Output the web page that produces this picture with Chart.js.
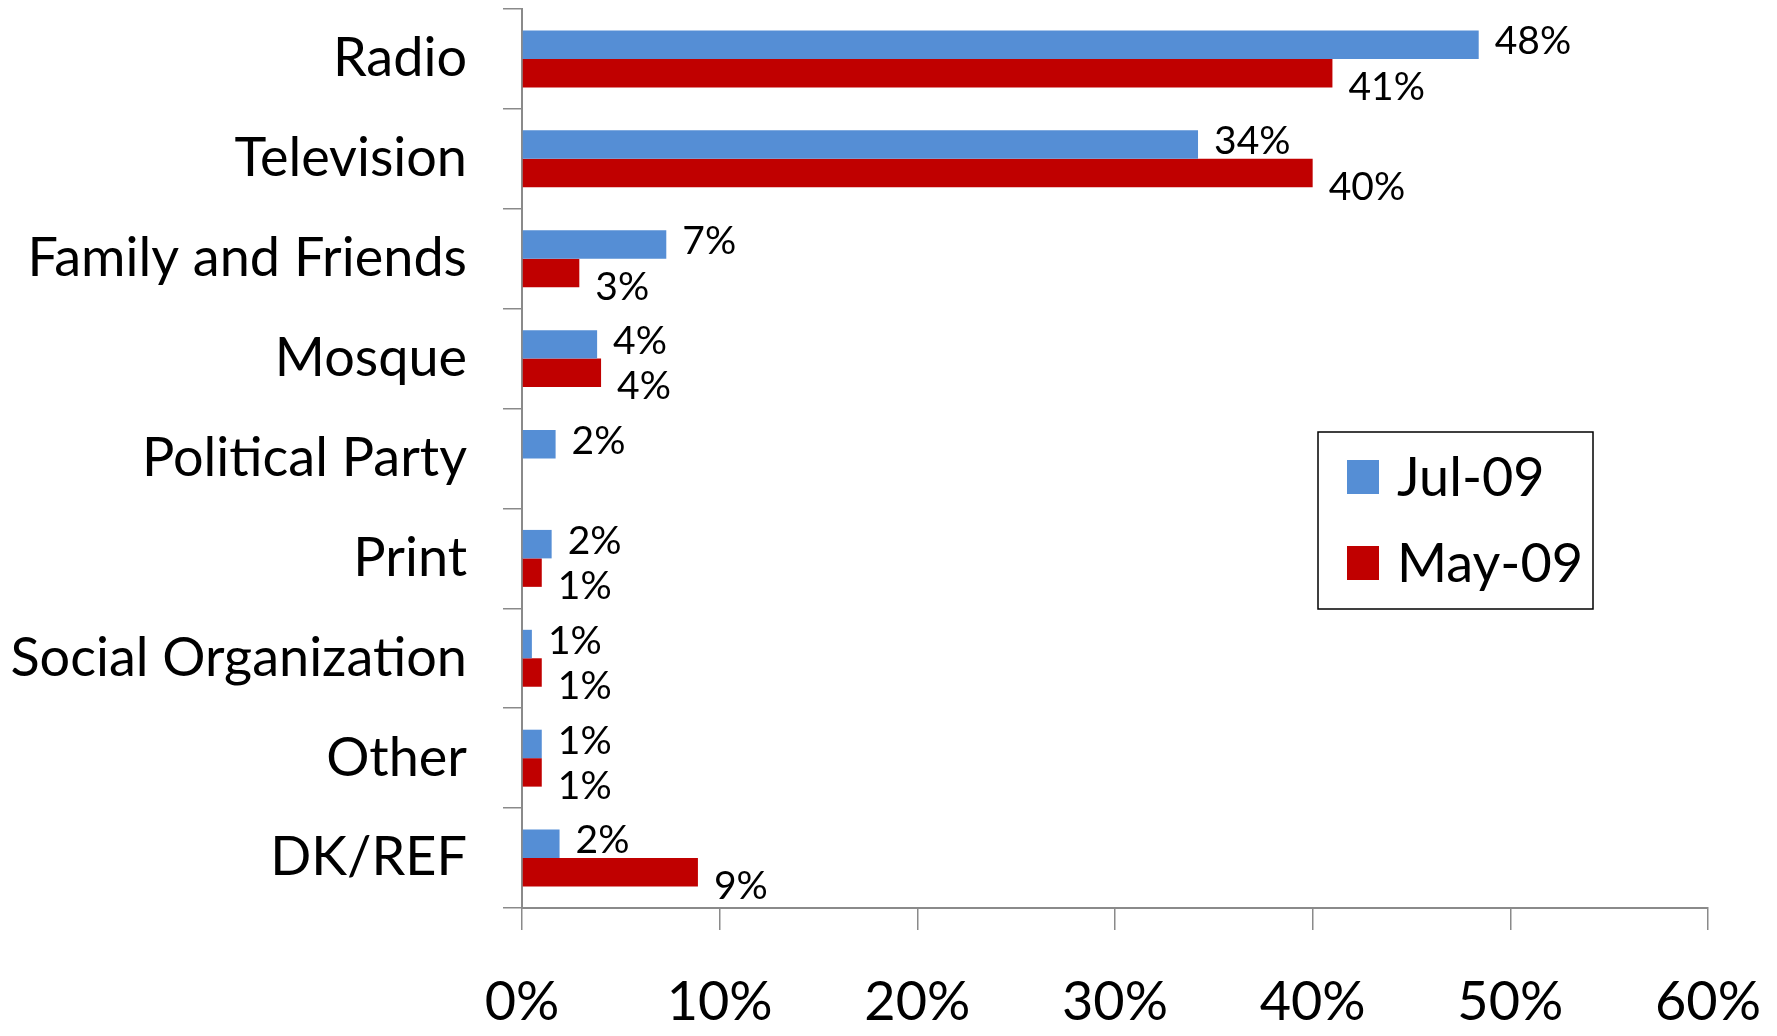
<!DOCTYPE html>
<html>
<head>
<meta charset="utf-8">
<script src="https://cdn.jsdelivr.net/npm/chart.js@4/dist/chart.umd.min.js"></script>
<style>
  html, body { margin: 0; padding: 0; background: #ffffff; }
  #wrap { width: 1777px; height: 1036px; position: relative; }
</style>
</head>
<body>
<div id="wrap"><canvas id="c" width="1777" height="1036"></canvas></div>
<script>
const categories = ["Radio", "Television", "Family and Friends", "Mosque", "Political Party", "Print", "Social Organization", "Other", "DK/REF"];
const seriesNames = ["Jul-09", "May-09"];
const jul09 = [48.4, 34.2, 7.3, 3.8, 1.7, 1.5, 0.5, 1.0, 1.9];
const may09 = [41.0, 40.0, 2.9, 4.0, null, 1.0, 1.0, 1.0, 8.9];
const xTicks = [0, 10, 20, 30, 40, 50, 60];

const FONT = "Lato, 'Open Sans', sans-serif";
const colors = ["#558ED5", "#C00000"];

const dataLabels = {
  id: 'dataLabels',
  afterDatasetsDraw(chart) {
    const ctx = chart.ctx;
    ctx.save();
    ctx.font = "39px " + FONT;
    ctx.fillStyle = "#000";
    ctx.textBaseline = "middle";
    ctx.textAlign = "left";
    chart.data.datasets.forEach((ds, di) => {
      const meta = chart.getDatasetMeta(di);
      meta.data.forEach((el, i) => {
        const v = ds.data[i];
        if (v === null || v === undefined) return;
        const dy = di === 0 ? -3 : 14;
        ctx.fillText(Math.round(v) + "%", el.x + 16, el.y + dy);
      });
    });
    ctx.restore();
  }
};

const boxLegend = {
  id: 'boxLegend',
  afterDraw(chart) {
    const ctx = chart.ctx;
    ctx.save();
    const bx = 1318, by = 432, bw = 275, bh = 177;
    ctx.strokeStyle = "#000";
    ctx.lineWidth = 1.5;
    ctx.strokeRect(bx, by, bw, bh);
    ctx.font = "54px " + FONT;
    ctx.textBaseline = "middle";
    ctx.textAlign = "left";
    const ys = [477, 563];
    chart.data.datasets.forEach((ds, i) => {
      ctx.fillStyle = ds.backgroundColor;
      ctx.fillRect(1347, ys[i] - 17, 32, 34);
      ctx.fillStyle = "#000";
      ctx.fillText(ds.label, 1397, ys[i] + 2);
    });
    ctx.restore();
  }
};

new Chart(document.getElementById('c'), {
  type: 'bar',
  data: {
    labels: categories,
    datasets: [
      { label: seriesNames[0], data: jul09, backgroundColor: colors[0], borderWidth: 0 },
      { label: seriesNames[1], data: may09, backgroundColor: colors[1], borderWidth: 0 }
    ]
  },
  options: {
    indexAxis: 'y',
    responsive: false,
    animation: false,
    devicePixelRatio: 1,
    layout: { padding: { top: 9, right: 69, left: 0, bottom: 0 } },
    datasets: { bar: { categoryPercentage: 0.57, barPercentage: 1.0 } },
    plugins: {
      legend: { display: false },
      tooltip: { enabled: false }
    },
    scales: {
      x: {
        min: 0, max: 60,
        afterBuildTicks(scale) { scale.ticks = xTicks.map(v => ({ value: v })); },
        afterFit(scale) {
          scale.height = 128;
          scale.paddingLeft = 0; scale.paddingRight = 0;
          scale.paddingTop = 0; scale.paddingBottom = 0;
        },
        border: { display: true, color: "#8a8a8a", width: 2 },
        grid: { drawOnChartArea: false, drawTicks: true, tickLength: 22, color: "#8a8a8a", lineWidth: 1.5 },
        ticks: {
          padding: 40,
          color: "#000",
          font: { family: FONT, size: 54 },
          callback: v => v + "%",
          maxRotation: 0
        }
      },
      y: {
        afterFit(scale) {
          scale.width = 522;
          scale.paddingLeft = 0; scale.paddingRight = 0;
          scale.paddingTop = 0; scale.paddingBottom = 0;
        },
        border: { display: true, color: "#8a8a8a", width: 2 },
        grid: { drawOnChartArea: false, drawTicks: true, tickLength: 19, color: "#8a8a8a", lineWidth: 1.5, offset: true },
        ticks: {
          padding: 36,
          color: "#000",
          font: { family: FONT, size: 54 },
          autoSkip: false
        }
      }
    }
  },
  plugins: [dataLabels, boxLegend]
});
</script>
</body>
</html>
